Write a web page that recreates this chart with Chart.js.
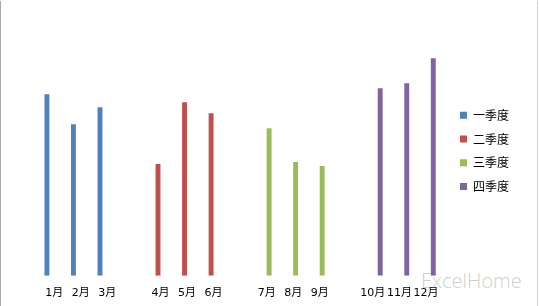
<!DOCTYPE html>
<html>
<head>
<meta charset="utf-8">
<script src="https://cdn.jsdelivr.net/npm/chart.js@4/dist/chart.umd.min.js"></script>
<style>
  html, body { margin: 0; padding: 0; background: #ffffff; }
  #wrap { position: relative; width: 539px; height: 306px; overflow: hidden; }
  #wrap canvas { position: absolute; left: 0; top: 0; z-index: 2; }
  .edge { position: absolute; top: 1px; bottom: 0; width: 1px; z-index: 3; }
  #edgeL { left: 0; background: #a9a9a9; }
  #edgeR { left: 537px; background: #d4d4d4; }
  #mark { position: absolute; left: 421px; top: 267px; z-index: 1;
          font: 300 20px "Open Sans", "DejaVu Sans", sans-serif; color: #cfcfcf; }
</style>
</head>
<body>
<div id="wrap">
  <canvas id="chart" width="539" height="306"></canvas>
  <div class="edge" id="edgeL"></div>
  <div class="edge" id="edgeR"></div>
  <div id="mark">ExcelHome</div>
</div>
<script>
// Category axis: twelve months, with an empty slot between quarters
const categories = ['1月', '2月', '3月', '', '4月', '5月', '6月', '', '7月', '8月', '9月', '', '10月', '11月', '12月'];
const seriesNames = ['一季度', '二季度', '三季度', '四季度'];
const seriesColors = ['#4F81BD', '#C0504D', '#9BBB59', '#8064A2'];

// Monthly values per quarter
const q1Values = [72.7, 60.7, 67.5];
const q2Values = [44.7, 69.5, 65.1];
const q3Values = [59.1, 45.5, 43.9];
const q4Values = [75.1, 77.1, 87.1];
const quarterValues = [q1Values, q2Values, q3Values, q4Values];

// Each quarter occupies its own three category slots; other slots stay empty
const datasets = quarterValues.map((vals, q) => {
  const data = categories.map(() => null);
  vals.forEach((v, m) => { data[q * 4 + m] = v; });
  return {
    label: seriesNames[q],
    data: data,
    backgroundColor: seriesColors[q],
    borderWidth: 0,
    categoryPercentage: 0.74,
    barPercentage: 1.0
  };
});

const cjk = '"Noto Sans CJK SC", "Noto Sans", sans-serif';

new Chart(document.getElementById('chart'), {
  type: 'bar',
  data: { labels: categories, datasets: datasets },
  options: {
    responsive: false,
    animation: false,
    events: [],
    layout: { padding: { top: 26, bottom: 6.8, left: 0, right: 20 } },
    plugins: {
      tooltip: { enabled: false },
      legend: {
        position: 'right',
        fullSize: false,
        align: 'center',
        labels: {
          boxWidth: 7,
          boxHeight: 7,
          padding: 11.8,
          color: '#000000',
          font: { family: cjk, size: 12 }
        }
      }
    },
    scales: {
      x: {
        grid: { display: false, drawTicks: false },
        border: { display: false },
        ticks: {
          autoSkip: false,
          maxRotation: 0,
          padding: 11,
          color: '#000000',
          font: { family: '"DejaVu Sans", ' + cjk, size: 11 }
        },
        afterFit: (s) => { s.height = 23.5; }
      },
      y: {
        min: 0,
        max: 100,
        grid: { display: false, drawTicks: false },
        border: { display: false },
        ticks: { display: false },
        afterFit: (s) => { s.width = 41; }
      },
      yGap: {
        type: 'linear',
        position: 'right',
        min: 0,
        max: 100,
        grid: { display: false, drawTicks: false },
        border: { display: false },
        ticks: { display: false },
        afterFit: (s) => { s.width = 9; }
      }
    }
  }
});
</script>
</body>
</html>
